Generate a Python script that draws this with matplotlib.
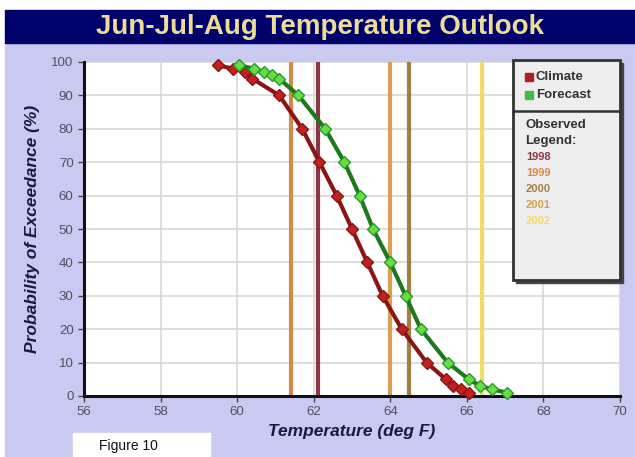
import numpy as np
import matplotlib.pyplot as plt
from matplotlib.patches import Rectangle

plt.rcParams['font.family'] = ['Liberation Sans', 'DejaVu Sans']

# climate curve (deg F, % exceedance)
clim_t = [59.5, 59.9, 60.2, 60.4, 61.1, 61.7, 62.15, 62.6, 63.0, 63.4, 63.8,
          64.3, 64.95, 65.45, 65.65, 65.85, 66.05]
clim_p = [99, 98, 97, 95, 90, 80, 70, 60, 50, 40, 30, 20, 10, 5, 3, 2, 1]

# forecast curve
fcst_t = [60.05, 60.45, 60.7, 60.9, 61.1, 61.6, 62.3, 62.8, 63.2, 63.55, 64.0,
          64.4, 64.8, 65.5, 66.05, 66.35, 66.65, 67.05]
fcst_p = [99, 98, 97, 96, 95, 90, 80, 70, 60, 50, 40, 30, 20, 10, 5, 3, 2, 1]

# observed seasons
obs_years = ["1998", "1999", "2000", "2001", "2002"]
obs_temps = [62.1, 61.4, 64.5, 64.0, 66.4]
obs_colors = ["#8a3548", "#cf8a4c", "#a08040", "#d8a050", "#f2dc68"]

W, H = 635, 457
fig = plt.figure(figsize=(W / 100, H / 100), dpi=100)
fig.patch.set_facecolor("white")

def fr(x0, y0, x1, y1):
    # pixel box -> figure fraction rectangle
    return (x0 / W, 1 - y1 / H), (x1 - x0) / W, (y1 - y0) / H

# lavender backdrop and navy title band
xy, w, h = fr(5, 43, 635, 457)
fig.patches.append(Rectangle(xy, w, h, transform=fig.transFigure, color="#c9c9f2", zorder=-2))
xy, w, h = fr(5, 10, 635, 43)
fig.patches.append(Rectangle(xy, w, h, transform=fig.transFigure, color="#00006a", zorder=-2))
fig.text(320 / W, 1 - 27 / H, "Jun-Jul-Aug Temperature Outlook", ha="center", va="center",
         fontsize=20, fontweight="bold", color="#ecdc98")

ax = fig.add_axes([84 / W, 1 - 396 / H, (620 - 84) / W, (396 - 62) / H])
ax.set_facecolor("white")
ax.set_xlim(56, 70)
ax.set_ylim(0, 100)
ax.set_xticks(np.arange(56, 71, 2))
ax.set_yticks(np.arange(0, 101, 10))
ax.grid(True, color="#d8d8d8", linewidth=1.2)
ax.set_axisbelow(True)
for s in ["top", "right"]:
    ax.spines[s].set_visible(False)
for s in ["left", "bottom"]:
    ax.spines[s].set_linewidth(2.2)
    ax.spines[s].set_color("#111111")
ax.tick_params(colors="#444444", labelsize=9.5, length=4, width=1)
for lbl in ax.get_xticklabels() + ax.get_yticklabels():
    lbl.set_color("#505060")

for t, c in zip(obs_temps, obs_colors):
    ax.axvline(t, color=c, linewidth=3, zorder=2)

ax.plot(clim_t, clim_p, color="#8a1515", linewidth=3, marker="D", markersize=6,
        markerfacecolor="#c42020", markeredgecolor="#8a1515", zorder=3, clip_on=False)
ax.plot(fcst_t, fcst_p, color="#1c7a1c", linewidth=3, marker="D", markersize=6,
        markerfacecolor="#66dd44", markeredgecolor="#2a9a2a", zorder=4, clip_on=False)

ax.set_xlabel("Temperature (deg F)", fontsize=12.5, fontweight="bold", style="italic",
              color="#1a1a3a", labelpad=4)
ax.set_ylabel("Probability of Exceedance (%)", fontsize=12.5, fontweight="bold",
              style="italic", color="#1a1a3a", labelpad=8)

# legend box
xy, w, h = fr(516, 63, 623, 283)
fig.patches.append(Rectangle(xy, w, h, transform=fig.transFigure, color="#444444", zorder=5))
xy, w, h = fr(513, 60, 620, 280)
fig.patches.append(Rectangle(xy, w, h, transform=fig.transFigure, facecolor="#eeeeee",
                             edgecolor="#333333", linewidth=2, zorder=6))
fig.add_artist(plt.Line2D([513 / W, 620 / W], [1 - 111 / H, 1 - 111 / H],
                          transform=fig.transFigure, color="#333333", linewidth=1.8, zorder=7))
for yy, name, col in [(77, "Climate", "#b02020"), (95, "Forecast", "#44bb44")]:
    xy, w, h = fr(525, yy - 4, 533, yy + 4)
    fig.patches.append(Rectangle(xy, w, h, transform=fig.transFigure, color=col, zorder=7))
    fig.text(536 / W, 1 - yy / H, name, ha="left", va="center", fontsize=9.5,
             fontweight="bold", color="#333333", zorder=8)
fig.text(525 / W, 1 - 125 / H, "Observed", ha="left", va="center", fontsize=9.5,
         fontweight="bold", color="#333333", zorder=8)
fig.text(525 / W, 1 - 141 / H, "Legend:", ha="left", va="center", fontsize=9.5,
         fontweight="bold", color="#333333", zorder=8)
for i, (yr, c) in enumerate(zip(obs_years, obs_colors)):
    fig.text(526 / W, 1 - (157 + 16 * i) / H, yr, ha="left", va="center", fontsize=8,
             fontweight="bold", color=c, zorder=8)

# figure caption box
xy, w, h = fr(73, 433, 210, 457)
fig.patches.append(Rectangle(xy, w, h, transform=fig.transFigure, color="white", zorder=1))
fig.text(128 / W, 1 - 446 / H, "Figure 10", ha="center", va="center", fontsize=10,
         color="#111111")

fig.savefig("out.png", dpi=100, facecolor=fig.get_facecolor())
